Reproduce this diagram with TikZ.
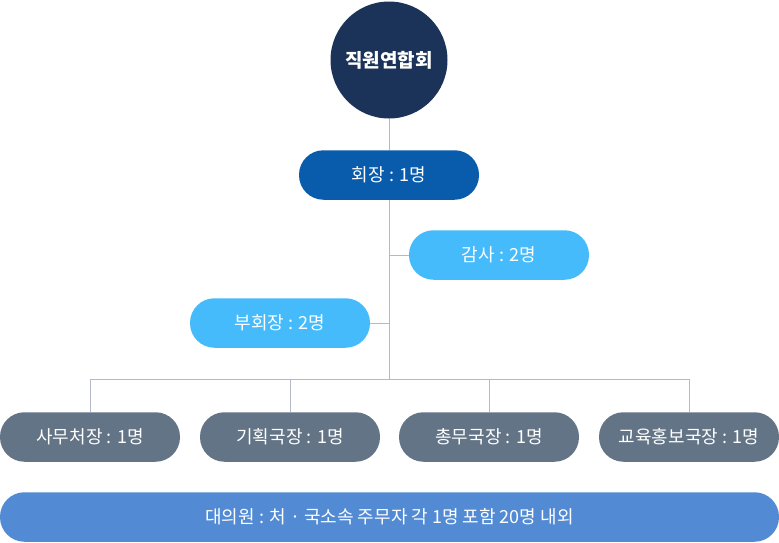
\documentclass[tikz,border=0pt]{standalone}
\usepackage{fontspec}
\setmainfont{Noto Sans CJK KR}
\usetikzlibrary{positioning}
\definecolor{UnionNavy}{RGB}{27,51,89}
\definecolor{ChairBlue}{RGB}{9,91,171}
\definecolor{SkyBlue}{RGB}{69,187,252}
\definecolor{SlateGray}{RGB}{99,116,134}
\definecolor{DelegBlue}{RGB}{82,139,212}
\definecolor{LineGray}{RGB}{180,184,200}
\begin{document}
\begin{tikzpicture}[x=1pt,y=-1pt,
  pill/.style={rectangle,rounded corners=24.5pt,minimum width=180pt,minimum height=49.5pt,text=white,font=\fontsize{18}{20}\selectfont,inner sep=0pt},
  link/.style={draw=LineGray,line width=1pt}]
\useasboundingbox (0,0) rectangle (779,542);
\node[circle,fill=UnionNavy,minimum size=117pt,inner sep=0pt,text=white,font=\fontsize{19}{21}\selectfont\bfseries] (union) at (389,60) {직원연합회};
\node[pill,fill=ChairBlue] (chair) at (389,175) {회장 : 1명};
\node[pill,fill=SkyBlue] (audit) at (499,255) {감사 : 2명};
\node[pill,fill=SkyBlue] (vice) at (280,323) {부회장 : 2명};
\node[pill,fill=SlateGray] (office) at (90,437) {사무처장 : 1명};
\node[pill,fill=SlateGray] (plan) at (290,437) {기획국장 : 1명};
\node[pill,fill=SlateGray] (admin) at (489,437) {총무국장 : 1명};
\node[pill,fill=SlateGray] (edu) at (689,437) {교육홍보국장 : 1명};
\node[pill,fill=DelegBlue,minimum width=779pt] (deleg) at (389.5,517) {대의원 : 처 · 국소속 주무자 각 1명 포함 20명 내외};
\coordinate (hub) at (389,379);
\draw[link] (union) -- (chair);
\draw[link] (chair) -- (hub);
\draw[link] (audit.west) -- (audit.west -| hub);
\draw[link] (vice.east) -- (vice.east -| hub);
\draw[link] (office.north |- hub) -- (edu.north |- hub);
\foreach \n in {office,plan,admin,edu}
  \draw[link] (\n.north |- hub) -- (\n.north);
\end{tikzpicture}
\end{document}
